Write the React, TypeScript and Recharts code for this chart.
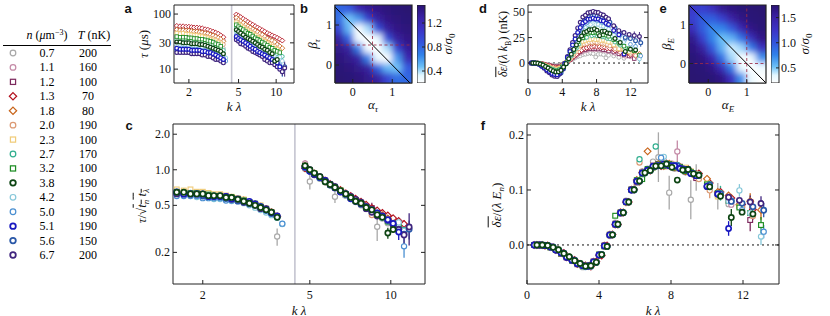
import React from 'react';
import { ScatterChart, Scatter, XAxis, YAxis, ReferenceLine, ErrorBar, BarChart, Bar } from 'recharts';

const SERIF = '"Liberation Serif", "Times New Roman", serif';
const SANS = '"Liberation Sans", Arial, sans-serif';
const INK = '#222';

// legend table: density (um^-3) and temperature (nK) of each data set
const DENSITY = [0.7, 1.1, 1.2, 1.3, 1.8, 2.0, 2.3, 2.7, 3.2, 3.8, 4.2, 5.0, 5.1, 5.6, 6.7];
const TEMP = [200, 160, 100, 70, 80, 190, 100, 170, 100, 190, 150, 190, 190, 150, 200];
const COLORS = ['#a8a8a8', '#c48aa6', '#7d2a5e', '#b3111e', '#c8641a', '#dc9a74', '#f0cc7a', '#2fae8e',
  '#1c8c22', '#0c4412', '#86c7d9', '#4a8fd1', '#1818c0', '#2a58a8', '#40257e'];
const SHAPES = ['circle', 'circle', 'square', 'diamond', 'diamond', 'circle', 'square', 'circle',
  'square', 'bold', 'circle', 'circle', 'bold', 'bold', 'bold'];
// drawing order of the data sets (last one on top)
const DRAW_ORDER = [0, 1, 2, 3, 4, 5, 6, 7, 8, 10, 11, 13, 14, 12, 9];

// k*lambda grid of panels a / c
const KL = [1.6, 1.7, 1.8, 1.9, 2.0, 2.1, 2.2, 2.32, 2.44, 2.56, 2.7, 2.84, 2.98, 3.13, 3.28, 3.44, 3.6, 3.78, 3.95,
  4.8, 5.0, 5.2, 5.45, 5.7, 5.95, 6.2, 6.5, 6.8, 7.1, 7.4, 7.75, 8.1, 8.5, 8.9, 9.3, 9.75, 10.2, 10.7, 11.2, 11.7];

// tau (us) per data set
const TAU_N07 = [55, 56, 54, 55, 53, 54, 52, 52, 51, 49, 48, 47, 46, 44, 42, 40, 38, 24, null,
  90, 70, 80, 74, 69, 65, 52, 57, 53, 50, 47, 44, 41, 39, 29, 34, 31, null, null, null, null];
const TAU_N11 = [55, 54, 54, 53, 53, 52, 51, 51, 50, 49, 48, 47, 45, 43, 42, 39, 37, 34, null,
  96, 84, 79, 73, 69, 64, 60, 56, 53, 49, 47, 44, 41, 38, 36, 34, 31, 29, null, null, null];
const TAU_N12 = [51, 50, 50, 49, 49, 48, 47, 47, 46, 45, 44, 43, 41, 40, 38, 36, 34, null, null,
  84, 77, 72, 67, 63, 58, 55, 52, 48, 45, 43, 41, 38, 37, 33, 31, 29, 27, 24, null, null];
const TAU_N13 = [61, 60, 60, 59, 59, 58, 57, 57, 56, 55, 53, 52, 50, 48, 46, 44, 41, 38, null,
  98, 93, 88, 82, 77, 72, 68, 64, 60, 57, 54, 51, 48, 45, 43, 41, 39, 37, 35, 33, null];
const TAU_N18 = [52, 51, 51, 50, 50, 49, 48, 48, 47, 46, 45, 44, 42, 41, 39, 37, 35, 32, null,
  86, 79, 74, 69, 64, 60, 57, 53, 50, 47, 44, 42, 39, 36, 34, 33, 31, 28, 26, 24, null];
const TAU_N20 = [45, 45, 44, 44, 43, 43, 42, 42, 41, 40, 39, 38, 37, 36, 34, 32, 31, 28, null,
  74, 69, 64, 60, 56, 53, 50, 46, 43, 41, 38, 36, 34, 29, 29, 28, 26, 24, 22, null, null];
const TAU_N23 = [45, 44, 45, 43, 43, 42, 41, 41, 40, 39, 38, 37, 35, 34, 33, 31, 29, null, null,
  70, 65, 62, 57, 53, 50, 47, 44, 41, 38, 36, 34, 32, 30, 28, 26, 24, 23, 21, null, null];
const TAU_N27 = [35, 35, 35, 34, 34, 33, 33, 33, 32, 32, 31, 30, 29, 28, 27, 25, 24, 22, null,
  58, 54, 51, 47, 44, 41, 39, 36, 34, 32, 30, 29, 26, 25, 23, 22, 20, 19, 18, 17, null];
const TAU_N32 = [39, 38, 38, 38, 37, 37, 36, 36, 35, 35, 34, 33, 32, 31, 29, 28, 26, null, null,
  64, 59, 55, 52, 48, 45, 43, 40, 37, 35, 33, 31, 29, 27, 25, 24, 22, 21, 20, null, null];
const TAU_N38 = [31, 31, 30, 30, 30, 29, 29, 29, 28, 28, 27, 26, 25, 24, 23, 22, 21, 19, null,
  52, 48, 45, 42, 38, 36, 34, 32, 30, 28, 26, 25, 23, 22, 20, 19, 14, 15, null, null, null];
const TAU_N42 = [28, 28, 28, 27, 27, 27, 26, 26, 26, 25, 25, 24, 23, 22, 21, 20, 19, 18, 16,
  48, 45, 42, 39, 37, 34, 33, 30, 28, 27, 25, 24, 22, 21, 19, 18, 17, 16, 16.5, 14, null];
const TAU_N50 = [24, 24, 24, 24, 23, 23, 23, 23, 22, 22, 22, 21, 21, 20, 19, 18, 17, 16, 14,
  42, 39, 37, 34, 32, 30, 28, 26, 25, 23, 22, 21, 19, 18, 17, 16, 15, 14, 12, 9, null];
const TAU_N51 = [24, 23, 23, 23, 23, 22, 22, 22, 22, 21, 21, 20, 20, 19, 18, 17, 16, 15, null,
  39, 36, 34, 32, 30, 28, 26, 24, 23, 21, 20, 19, 18, 17, 16, 15, 14, 13, 11, null, null];
const TAU_N56 = [22, 22, 22, 22, 21, 21, 21, 21, 20, 20, 19, 19, 18, 18, 17, 16, 15, 14, null,
  37, 34, 32, 30, 28, 26, 25, 23, 22, 20, 19, 18, 17, 16, 15, 14, 13, 12, 11, 10, 11];
const TAU_N67 = [20, 20, 20, 20, 20, 19, 19, 19, 19, 18, 18, 17, 17, 16, 15, 15, 14, 13, null,
  34, 32, 29, 28, 26, 24, 23, 21, 20, 19, 18, 17, 15, 14, 13, 13, 12, 11, 10, 9, 10.5];
// sqrt(t_n t_lambda) in us, used for the scaled panel c
const T_SCALE = [88, 85, 78, 95, 80, 70, 66, 55, 60, 48, 46, 40, 37, 35, 32];
// [data set, point index, error in us]
const ERR_TAU = [[0, 17, 4], [0, 20, 10], [0, 25, 6], [0, 33, 7], [1, 19, 7], [1, 32, 4], [2, 32, 4], [4, 19, 4],
  [3, 38, 2.5], [5, 36, 2], [6, 37, 1.5], [7, 38, 1.5], [8, 37, 1.5], [9, 35, 1.5], [10, 37, 1.2], [11, 38, 1.8],
  [12, 37, 1.6], [13, 39, 2], [14, 38, 1.5], [14, 39, 3.2]];

// k*lambda grids of panels d / f (even and odd data sets are sampled on shifted grids)
const KE = [0.4, 0.7, 1.0, 1.3, 1.6, 1.9, 2.2, 2.5, 2.8, 3.1, 3.4, 3.7, 4.0, 4.3, 4.6, 4.9, 5.2, 5.5, 5.8, 6.1,
  6.4, 6.7, 7.0, 7.3, 7.6, 7.9, 8.2, 8.5, 8.8, 9.1, 9.4, 9.7, 10.0, 10.3, 10.6, 10.9, 11.2, 11.5, 11.8, 12.1,
  12.4, 12.7, 13.0, 13.3];
const KE_ALT = [0.55, 0.85, 1.15, 1.45, 1.75, 2.05, 2.35, 2.65, 2.95, 3.25, 3.55, 3.85, 4.15, 4.45, 4.75, 5.05, 5.35, 5.65, 5.95, 6.25,
  6.55, 6.85, 7.15, 7.45, 7.75, 8.05, 8.35, 8.65, 8.95, 9.25, 9.55, 9.85, 10.15, 10.45, 10.75, 11.05, 11.35, 11.65, 11.95, 12.25,
  12.55, 12.85, 13.15, 13.4];

// mean energy shift / (lambda kB) in nK per data set
const DE_N07 = [0, 0.1, -0.1, -0.3, -0.5, -1, -1.3, -1.8, -2, -2.5, -2.3, -2, -1.2, 0, 1, 2.5, 3.5, 5, 6.2, 7,
  8.3, 8.6, 9.4, 9.9, 9.2, 5.9, 8.6, 8.8, 8.2, 5.1, 7.6, null, 6.9, null, 5.5, null, 4.6, null, null, null,
  null, null, null, null];
const DE_N11 = [0, 0, -0.1, -0.3, -0.8, -1.3, -2.1, -2.6, -3, -3.5, -3.3, -2.9, -1.5, -0.3, 1.7, 3.3, 5.3, 7, 9.1, 10.4,
  11.9, 12.1, 13, 13.4, 12.9, 13.3, 15.3, 12.4, 12.4, 11.5, 11.6, null, 9.4, null, 8.6, null, 6.6, null, 6.2, null,
  null, null, null, null];
const DE_N12 = [0, -0.1, -0.1, -0.4, -0.8, -1.6, -2.2, -2.6, -3.4, -3.6, -3.8, -2.9, -1.8, -0.1, 1.8, 3.6, 5.7, 7.6, 9.8, 11.1,
  12.8, 13.1, 14, 14.3, 13.9, 14.3, 13.7, 13.8, 13, 12.9, 11.8, null, 10.8, null, 9.1, null, 7.9, null, 6.9, null,
  4.4, null, null, null];
const DE_N13 = [0, 0, -0.1, -0.5, -1, -1.6, -2.5, -3, -3.8, -4.1, -4.3, -3.3, -2.1, -0.1, 2.1, 4.1, 6.5, 8.6, 11.1, 12.7,
  14.5, 14.9, 15.8, 15.8, 16.3, 15.8, 15.9, 15.2, 15.2, 14.2, 14.3, null, 12.4, null, 10.6, null, 9.4, null, 8.1, null,
  7.1, null, null, null];
const DE_N18 = [0, 0, -0.2, -0.5, -1.3, -2, -3.1, -3.8, -4.8, -5.1, -5.3, -4.2, -2.6, -0.2, 2.6, 5.1, 8.2, 10.7, 13.9, 16.3,
  18.2, 23.5, 19.4, 20.3, 19.8, 20.4, 19.5, 19.6, 18.5, 18.4, 17.8, null, 16.6, null, 13.3, null, 12.4, null, 10.1, null,
  11, null, 8.8, null];
const DE_N20 = [0, 0, -0.1, -0.5, -1.3, -2.2, -3, -4, -4.7, -5.4, -5.2, -4.4, -2.4, -0.4, 2.6, 5.2, 8.3, 10.9, 14.1, 21,
  18.5, 19, 20.2, 20.1, 20.7, 20, 20.3, 19.3, 19.2, 18, 16.8, null, 13.9, null, 13.1, null, 11.2, null, 9.6, null,
  7.4, null, null, null];
const DE_N23 = [0, 0, -0.1, -0.7, -1.3, -2.5, -3.4, -4.6, -5.3, -6.2, -6, -5.1, -2.8, -0.4, 3, 6, 9.5, 12.4, 16, 18.5,
  21.1, 21.7, 23, 23, 23.8, 22.9, 23.4, 22.1, 22.5, 21.4, 20.6, null, 17.9, null, 14.1, null, 13.3, null, 11.2, null,
  null, null, null, null];
const DE_N27 = [0, 0, -0.2, -0.8, -1.6, -2.9, -4, -5.3, -6.2, -7.2, -7, -5.9, -3.2, -0.5, 3.4, 7, 11, 14.5, 18.7, 29,
  24.5, 25.2, 33.3, 26.8, 27.6, 26.6, 27.1, 25.7, 25.6, 24.1, 23.8, null, 20.6, null, 17.5, null, 14.9, null, null, null,
  null, null, null, null];
const DE_N32 = [0, 0, -0.2, -0.9, -1.8, -3.2, -4.5, -5.9, -6.9, -8, -7.8, -6.5, -3.6, -0.5, 3.8, 11, 12.2, 16.2, 20.8, 24.4,
  24.8, 28.6, 29.2, 30.3, 29.8, 30.4, 29.2, 29.3, 27.8, 27.4, 26.3, null, 22.8, null, 19.5, null, 16.6, null, 14.1, null,
  12, null, 7.5, null];
const DE_N38 = [0, 0, -0.2, -1, -2, -3.5, -4.9, -6.5, -7.7, -8.8, -8.6, -7.2, -4, -0.6, 4.2, 8.6, 13.4, 17.8, 22.9, 26.5,
  29.9, 30.9, 32.7, 32.8, 33.6, 32.2, 26.9, 31.1, 31.3, 29.5, 28.9, null, 24.1, null, 20.2, null, 11.4, null, 13.6, null,
  12.8, null, null, null];
const DE_N42 = [0, 0, -0.3, -1.1, -2.3, -4, -5.7, -7.4, -8.8, -10.1, -10.2, -8, -4.8, -0.4, 4.8, 9.9, 15.4, 20.5, 26.2, 30.5,
  34.4, 35.6, 37.6, 37.8, 42, 37.7, 37.9, 36.4, 36, 34.1, 33.3, null, 27.9, null, 24.4, null, 21, null, 26, null,
  15.2, null, 4, null];
const DE_N50 = [0, 0, -0.3, -1.3, -2.7, -4.5, -6.5, -8.3, -10.2, -11.6, -11.4, -9.3, -5.1, -0.7, 5.4, 10.8, 17, 22.6, 29.1, 33.6,
  38, 39.3, 41.7, 46, 42.8, 41.8, 42, 40.1, 39.8, 37.6, 36.9, null, 30.6, null, 27.1, null, 23.5, null, 18.4, null,
  16.4, null, 7, null];
const DE_N51 = [0, 0, -0.3, -1.1, -2.8, -4.4, -6.7, -8.3, -10.3, -11.3, -11.5, -9.2, -5.5, -0.5, 5.5, 11.3, 17.6, 23.5, 30, 34.8,
  39.3, 40.8, 43, 43.3, 44.1, 43.2, 43.2, 41.7, 41.2, 39, 37.8, null, 32, null, 27.8, null, 9, null, null, null,
  null, null, null, null];
const DE_N56 = [0, 0, -0.3, -1.2, -3, -4.7, -7.1, -8.8, -10.9, -12.2, -11.8, -9.9, -5.6, -0.7, 5.8, 11.8, 18.6, 24.8, 31.7, 36.8,
  41.5, 43.1, 45.4, 45.7, 46.6, 45.8, 45.6, 44, 43.5, 41.2, 40, null, 34.6, null, 29.3, null, 25.1, null, 24, null,
  22, null, 20, null];
const DE_N67 = [0, 0, -0.4, -1.3, -3.2, -5.1, -7.7, -9.6, -11.8, -13, -13.2, -10.6, -6.3, -0.6, 6.3, 13, 20.2, 27.1, 34.5, 40.1,
  45.2, 47, 49.3, 49.8, 50.7, 49.8, 49.6, 48, 47.2, 44.9, 43.5, null, 36.6, null, 31.8, null, 30, null, 28, null,
  27, null, 26, null];
// E_n / kB in nK, used for the scaled panel f
const E_N = [62, 90, 97, 110, 138, 140, 160, 186, 207, 228, 262, 290, 300, 317, 345];
// [data set, point index, error in nK]
const ERR_DE = [[0, 23, 2.8], [0, 25, 1.9], [0, 29, 2.2], [0, 30, 1.5], [0, 34, 1.5], [1, 26, 1.8], [2, 40, 2], [3, 40, 2],
  [4, 40, 2], [4, 42, 2.5], [5, 32, 2], [7, 34, 2.5], [8, 42, 3], [9, 36, 3.5], [10, 38, 3], [10, 42, 4], [11, 40, 3],
  [11, 42, 3.5], [12, 36, 4], [13, 42, 4], [14, 40, 4], [14, 42, 4.5]];

// sigma/sigma0 maps (rows from top beta to bottom beta)
const ALPHA_B = [-0.33, -0.09, 0.16, 0.40, 0.64, 0.89, 1.13, 1.38];
const BETA_B = [1.38, 1.13, 0.89, 0.64, 0.40, 0.16, -0.09, -0.33];
const SIGMA_B = [
  [0.79, 0.85, 1.22, 1.34, 1.42, 1.46, 1.48, 1.5],
  [0.75, 0.46, 0.6, 1.0, 1.32, 1.42, 1.46, 1.48],
  [0.98, 0.5, 0.21, 0.4, 0.9, 1.32, 1.42, 1.46],
  [1.32, 0.82, 0.26, 0.16, 0.28, 0.9, 1.32, 1.42],
  [1.4, 1.32, 0.68, 0.25, 0.16, 0.4, 1.0, 1.34],
  [1.46, 1.4, 1.3, 0.68, 0.28, 0.21, 0.6, 1.22],
  [1.48, 1.46, 1.4, 1.32, 0.82, 0.5, 0.46, 0.85],
  [1.5, 1.48, 1.46, 1.4, 1.32, 0.98, 0.75, 0.79],
];
const ALPHA_E = [-0.375, -0.125, 0.125, 0.375, 0.625, 0.875, 1.125, 1.375];
const BETA_E = [1.375, 1.125, 0.875, 0.625, 0.375, 0.125, -0.125, -0.375];
const SIGMA_E = [
  [1.2, 1.15, 1.35, 1.6, 1.68, 1.72, 1.74, 1.75],
  [1.15, 0.95, 0.95, 1.15, 1.5, 1.65, 1.72, 1.74],
  [1.35, 0.95, 0.72, 0.75, 0.98, 1.42, 1.65, 1.72],
  [1.62, 1.15, 0.75, 0.52, 0.58, 0.85, 1.35, 1.65],
  [1.68, 1.52, 0.98, 0.58, 0.38, 0.45, 0.78, 1.3],
  [1.72, 1.66, 1.42, 0.85, 0.45, 0.22, 0.28, 0.7],
  [1.74, 1.72, 1.65, 1.35, 0.78, 0.3, 0.17, 0.28],
  [1.75, 1.74, 1.72, 1.65, 1.3, 0.7, 0.3, 0.2],
];

const TAU = [TAU_N07, TAU_N11, TAU_N12, TAU_N13, TAU_N18, TAU_N20, TAU_N23, TAU_N27, TAU_N32, TAU_N38, TAU_N42, TAU_N50, TAU_N51, TAU_N56, TAU_N67];
const DE = [DE_N07, DE_N11, DE_N12, DE_N13, DE_N18, DE_N20, DE_N23, DE_N27, DE_N32, DE_N38, DE_N42, DE_N50, DE_N51, DE_N56, DE_N67];

const HEAT_STOPS: [number, string][] = [
  [0, '#ffffff'], [0.1, '#e2f7ff'], [0.21, '#6cc0f7'], [0.36, '#3182ea'],
  [0.52, '#3454dc'], [0.68, '#3c34c6'], [0.84, '#3a22a6'], [1, '#2a1272'],
];

function hexRgb(h: string) {
  return [parseInt(h.slice(1, 3), 16), parseInt(h.slice(3, 5), 16), parseInt(h.slice(5, 7), 16)];
}

function heatColor(v: number, lo: number, hi: number) {
  const t = Math.max(0, Math.min(1, (v - lo) / (hi - lo)));
  for (let k = 1; k < HEAT_STOPS.length; k++) {
    const [t1, c1] = HEAT_STOPS[k];
    if (t <= t1) {
      const [t0, c0] = HEAT_STOPS[k - 1];
      const f = (t - t0) / (t1 - t0);
      const a = hexRgb(c0), b = hexRgb(c1);
      return `rgb(${a.map((x, j) => Math.round(x + (b[j] - x) * f)).join(',')})`;
    }
  }
  return HEAT_STOPS[HEAT_STOPS.length - 1][1];
}

function buildPoints(xs: number[], ys: (number | null)[], scale: number, errs: number[][], si: number) {
  const out: any[] = [];
  ys.forEach((v, i) => {
    if (v == null) return;
    const e = errs.find((r) => r[0] === si && r[1] === i);
    out.push({ x: xs[i], y: v / scale, err: e ? e[2] / scale : 0 });
  });
  return out;
}

function Marker({ cx, cy, i, r }: any) {
  if (cx == null || cy == null) return null;
  const color = COLORS[i];
  const shape = SHAPES[i];
  const sw = (shape === 'bold' ? 1.65 : 1.15) * (r / 2.6);
  const common = { fill: '#fff', stroke: color, strokeWidth: sw };
  if (shape === 'square') {
    const s = r * 0.92;
    return <rect x={cx - s} y={cy - s} width={2 * s} height={2 * s} {...common} />;
  }
  if (shape === 'diamond') {
    const s = r * 1.3;
    return <polygon points={`${cx},${cy - s} ${cx + s},${cy} ${cx},${cy + s} ${cx - s},${cy}`} {...common} />;
  }
  return <circle cx={cx} cy={cy} r={r} {...common} />;
}

const FRAME = { stroke: INK, strokeWidth: 1 };

function BottomTick({ x, y, payload, fmt, margin, lab }: any) {
  const y0 = y - margin;
  return (
    <g>
      <line x1={x} x2={x} y1={y0} y2={y0 - 4} stroke={INK} />
      <text x={x} y={y0 + lab} textAnchor="middle" fontFamily={SERIF} fontSize={12} fill="#111">{fmt(payload.value)}</text>
    </g>
  );
}

function LeftTick({ x, y, payload, fmt, margin }: any) {
  const x0 = x + margin;
  return (
    <g>
      <line x1={x0} x2={x0 + 4} y1={y} y2={y} stroke={INK} />
      <text x={x0 - 3} y={y + 4} textAnchor="end" fontFamily={SERIF} fontSize={12} fill="#111">{fmt(payload.value)}</text>
    </g>
  );
}

function TopTick({ x, y }: any) {
  return <line x1={x} x2={x} y1={y} y2={y + 4} stroke={INK} />;
}

function RightTick({ x, y }: any) {
  return <line x1={x} x2={x - 4} y1={y} y2={y} stroke={INK} />;
}

function CbarTick({ x, y, payload, fmt, margin }: any) {
  const x0 = x - margin;
  return (
    <g>
      <line x1={x0} x2={x0 - 3} y1={y} y2={y} stroke={INK} />
      <text x={x0 + 2} y={y + 4} textAnchor="start" fontFamily={SERIF} fontSize={12} fill="#111">{fmt(payload.value)}</text>
    </g>
  );
}

const LY = 34;
const TOPM = 4;
const RIGHTM = 6;
const XH = 20;

function DataPanel({ left, top, w, h, xDomain, yDomain, xLog, yLog, xTicks, yTicks, xFmt, yFmt, series, r, vLine, zeroLine, lab }: any) {
  const xs = xLog ? 'log' : 'linear';
  const ys = yLog ? 'log' : 'linear';
  return (
    <div style={{ position: 'absolute', left: left - LY, top: top - TOPM }}>
      <ScatterChart width={LY + w + RIGHTM} height={TOPM + h + XH} margin={{ top: TOPM, right: RIGHTM, bottom: 0, left: 0 }}>
        <XAxis type="number" dataKey="x" scale={xs} domain={xDomain} allowDataOverflow ticks={xTicks} interval={0}
          height={XH} tickSize={0} tickMargin={3} tickLine={false} axisLine={FRAME}
          tick={(p: any) => <BottomTick {...p} fmt={xFmt} margin={3} lab={lab} />} />
        <XAxis xAxisId="top" orientation="top" mirror type="number" scale={xs} domain={xDomain} allowDataOverflow
          ticks={xTicks} interval={0} tickSize={0} tickMargin={0} tickLine={false} axisLine={FRAME}
          tick={(p: any) => <TopTick {...p} />} />
        <YAxis type="number" dataKey="y" scale={ys} domain={yDomain} allowDataOverflow ticks={yTicks} interval={0}
          width={LY} tickSize={0} tickMargin={3} tickLine={false} axisLine={FRAME}
          tick={(p: any) => <LeftTick {...p} fmt={yFmt} margin={3} />} />
        <YAxis yAxisId="right" orientation="right" mirror type="number" scale={ys} domain={yDomain} allowDataOverflow
          ticks={yTicks} interval={0} tickSize={0} tickMargin={0} tickLine={false} axisLine={FRAME}
          tick={(p: any) => <RightTick {...p} />} />
        {vLine != null && <ReferenceLine x={vLine} stroke="#c4c4d0" strokeWidth={1.6} />}
        {zeroLine && <ReferenceLine y={0} stroke="#111" strokeDasharray="2 3" />}
        {DRAW_ORDER.map((i) => (
          <Scatter key={i} data={series[i]} isAnimationActive={false} shape={(p: any) => <Marker cx={p.cx} cy={p.cy} i={i} r={r} />}>
            <ErrorBar dataKey="err" direction="y" width={0} stroke={COLORS[i]} strokeWidth={r > 2.2 ? 1.3 : 1} />
          </Scatter>
        ))}
      </ScatterChart>
    </div>
  );
}

const HLY = 30;
const NoDot = () => <g />;

function HeatPanel({ left, top, w, h, domain, alphas, betas, grid, range, filterId, cross, diag }: any) {
  const n = alphas.length;
  const cells: any[] = [];
  grid.forEach((row: number[], ri: number) => row.forEach((v, ci) => cells.push({ x: alphas[ci], y: betas[ri], v, r: ri, c: ci })));
  const cw = w / n;
  const ch = h / n;
  const shape = (p: any) => {
    const { cx, cy, payload } = p;
    let x0 = cx - cw / 2 - 0.7, x1 = cx + cw / 2 + 0.7, y0 = cy - ch / 2 - 0.7, y1 = cy + ch / 2 + 0.7;
    if (payload.c === 0) x0 -= 14;
    if (payload.c === n - 1) x1 += 14;
    if (payload.r === 0) y0 -= 14;
    if (payload.r === n - 1) y1 += 14;
    return <rect x={x0} y={y0} width={x1 - x0} height={y1 - y0} fill={heatColor(payload.v, range[0], range[1])} />;
  };
  const [d0, d1] = domain;
  const box = [{ x: d0, y: d0 }, { x: d1, y: d0 }, { x: d1, y: d1 }, { x: d0, y: d1 }, { x: d0, y: d0 }];
  const dash = { stroke: '#9a2a48', strokeOpacity: 0.85, strokeDasharray: '3 2.5', strokeWidth: 1 };
  const f0 = (v: number) => String(v);
  return (
    <div style={{ position: 'absolute', left: left - HLY, top: top - TOPM }}>
      <ScatterChart width={HLY + w + RIGHTM} height={TOPM + h + XH} margin={{ top: TOPM, right: RIGHTM, bottom: 0, left: 0 }}>
        <XAxis type="number" dataKey="x" domain={domain} ticks={[0, 1]} interval={0} height={XH} tickSize={0} tickMargin={3}
          tickLine={false} axisLine={FRAME} tick={(p: any) => <BottomTick {...p} fmt={f0} margin={3} lab={13} />} />
        <YAxis type="number" dataKey="y" domain={domain} ticks={[0, 1]} interval={0} width={HLY} tickSize={0} tickMargin={3}
          tickLine={false} axisLine={FRAME} tick={(p: any) => <LeftTick {...p} fmt={f0} margin={3} />} />
        <Scatter data={cells} className={filterId} isAnimationActive={false} shape={shape} />
        <Scatter data={[{ x: cross[0], y: d0 }, { x: cross[0], y: d1 }]} line={dash} lineType="joint" shape={NoDot} isAnimationActive={false} />
        <Scatter data={[{ x: d0, y: cross[1] }, { x: d1, y: cross[1] }]} line={dash} lineType="joint" shape={NoDot} isAnimationActive={false} />
        <Scatter data={diag} line={{ stroke: '#000', strokeWidth: 1 }} lineType="joint" shape={NoDot} isAnimationActive={false} />
        <Scatter data={box} line={{ stroke: INK, strokeWidth: 1.2 }} lineType="joint" shape={NoDot} isAnimationActive={false} />
      </ScatterChart>
    </div>
  );
}

function ColorBar({ left, top, w, h, range, ticks }: any) {
  const fmt = (v: number) => v.toFixed(1);
  return (
    <div style={{ position: 'absolute', left, top: top - TOPM }}>
      <BarChart width={w + 30} height={h + 2 * TOPM} margin={{ top: TOPM, right: 0, bottom: TOPM, left: 0 }}
        data={[{ k: 'cb', r: range }]} barCategoryGap={0}>
        <XAxis dataKey="k" hide />
        <YAxis orientation="right" type="number" domain={range} allowDataOverflow ticks={ticks} interval={0} width={30}
          tickSize={0} tickMargin={3} tickLine={false} axisLine={false}
          tick={(p: any) => <CbarTick {...p} fmt={fmt} margin={3} />} />
        <Bar dataKey="r" fill="url(#cbarGrad)" stroke={INK} strokeWidth={1} isAnimationActive={false} />
      </BarChart>
    </div>
  );
}

function Txt({ x, y, rot, size = 13, children, style }: any) {
  return (
    <div style={{
      position: 'absolute', left: x, top: y, whiteSpace: 'nowrap', fontFamily: SERIF, fontSize: size, lineHeight: 1,
      transform: `translate(-50%,-50%)${rot ? ' rotate(-90deg)' : ''}`, color: '#111', ...style,
    }}>{children}</div>
  );
}

function Letter({ x, y, children }: any) {
  return <Txt x={x} y={y} size={13} style={{ fontFamily: SANS, fontWeight: 700 }}>{children}</Txt>;
}

const KLAMBDA = <span><i>k</i> <i>λ</i></span>;

function Legend() {
  const rowY = (i: number) => 53 + i * 14.43;
  return (
    <svg width={118} height={270} style={{ position: 'absolute', left: 0, top: 0 }}>
      <text x={47} y={39} textAnchor="middle" fontFamily={SERIF} fontSize={12}>
        <tspan fontStyle="italic">n</tspan> (<tspan fontStyle="italic">μ</tspan>m<tspan dy={-4} fontSize={8}>−3</tspan><tspan dy={4}>)</tspan>
      </text>
      <text x={94} y={39} textAnchor="middle" fontFamily={SERIF} fontSize={12}>
        <tspan fontStyle="italic">T</tspan> (nK)
      </text>
      <line x1={3} x2={111} y1={45.5} y2={45.5} stroke="#000" strokeWidth={1} />
      {DENSITY.map((d, i) => (
        <g key={i}>
          <Marker cx={13} cy={rowY(i)} i={i} r={2.8} />
          <text x={47} y={rowY(i) + 4} textAnchor="middle" fontFamily={SERIF} fontSize={12}>{d.toFixed(1)}</text>
          <text x={88} y={rowY(i) + 4} textAnchor="middle" fontFamily={SERIF} fontSize={12}>{TEMP[i]}</text>
        </g>
      ))}
    </svg>
  );
}

export default function App() {
  const aSeries = TAU.map((arr, i) => buildPoints(KL, arr, 1, ERR_TAU, i));
  const cSeries = TAU.map((arr, i) => buildPoints(KL, arr, T_SCALE[i], ERR_TAU, i));
  const dSeries = DE.map((arr, i) => buildPoints(i % 2 ? KE_ALT : KE, arr, 1, ERR_DE, i));
  const fSeries = DE.map((arr, i) => buildPoints(i % 2 ? KE_ALT : KE, arr, E_N[i], ERR_DE, i));
  const int = (v: number) => String(v);
  const one = (v: number) => v.toFixed(1);

  return (
    <div style={{ position: 'absolute', left: 0, top: 0, width: 830, height: 316, background: '#fff', overflow: 'hidden', fontFamily: SERIF }}>
      <style>{'.heatB{filter:url(#blurB);} .heatE{filter:url(#blurE);}'}</style>
      <svg width={0} height={0} style={{ position: 'absolute' }}>
        <defs>
          <linearGradient id="cbarGrad" x1="0" y1="1" x2="0" y2="0">
            {HEAT_STOPS.map(([t, c]) => <stop key={t} offset={t} stopColor={c} />)}
          </linearGradient>
          <filter id="blurB" filterUnits="userSpaceOnUse" x={HLY} y={TOPM} width={77} height={78}>
            <feGaussianBlur stdDeviation={3.2} />
          </filter>
          <filter id="blurE" filterUnits="userSpaceOnUse" x={HLY} y={TOPM} width={77} height={78}>
            <feGaussianBlur stdDeviation={3.2} />
          </filter>
        </defs>
      </svg>

      <Legend />

      {/* a */}
      <DataPanel left={174} top={5} w={120} h={78} xDomain={[1.52, 13.9]} yDomain={[5.6, 146]} xLog yLog
        xTicks={[2, 5, 10]} yTicks={[10, 30, 100]} xFmt={int} yFmt={int} series={aSeries} r={1.9} vLine={4.4} lab={13} />
      {/* b */}
      <HeatPanel left={335} top={5} w={77} h={78} domain={[-0.45, 1.5]} alphas={ALPHA_B} betas={BETA_B} grid={SIGMA_B}
        range={[0.2, 1.5]} filterId="heatB" cross={[0.5, 0.5]} diag={[{ x: -0.45, y: 1.45 }, { x: 1.45, y: -0.45 }]} />
      <ColorBar left={417} top={5} w={8} h={78} range={[0.2, 1.5]} ticks={[0.4, 0.8, 1.2]} />
      {/* d */}
      <DataPanel left={528} top={5} w={120} h={78} xDomain={[0, 14]} yDomain={[-19.6, 57]}
        xTicks={[0, 4, 8, 12]} yTicks={[0, 25, 50]} xFmt={int} yFmt={int} series={dSeries} r={1.9} zeroLine lab={13} />
      {/* e */}
      <HeatPanel left={689} top={5} w={77} h={78} domain={[-0.5, 1.5]} alphas={ALPHA_E} betas={BETA_E} grid={SIGMA_E}
        range={[0.2, 1.75]} filterId="heatE" cross={[1, 0]} diag={[{ x: -0.5, y: 1.5 }, { x: 1.5, y: -0.5 }]} />
      <ColorBar left={771} top={5} w={8} h={78} range={[0.2, 1.75]} ticks={[0.5, 1.0, 1.5]} />
      {/* c */}
      <DataPanel left={173} top={124} w={252} h={160} xDomain={[1.55, 13.4]} yDomain={[0.108, 2.44]} xLog yLog
        xTicks={[2, 5, 10]} yTicks={[0.2, 0.5, 1, 2]} xFmt={int} yFmt={one} series={cSeries} r={2.6} vLine={4.4} lab={15} />
      {/* f */}
      <DataPanel left={527} top={124} w={252} h={160} xDomain={[0, 14]} yDomain={[-0.071, 0.22]}
        xTicks={[0, 4, 8, 12]} yTicks={[0, 0.1, 0.2]} xFmt={int} yFmt={one} series={fSeries} r={2.6} zeroLine lab={15} />

      <Letter x={128} y={8}>a</Letter>
      <Letter x={304} y={8}>b</Letter>
      <Letter x={483} y={8}>d</Letter>
      <Letter x={663} y={8}>e</Letter>
      <Letter x={129} y={125}>c</Letter>
      <Letter x={483} y={125}>f</Letter>

      <Txt x={143} y={44} rot><i>τ</i> (<i>μ</i>s)</Txt>
      <Txt x={234} y={106}>{KLAMBDA}</Txt>
      <Txt x={314} y={44} rot><i>β<sub style={{ fontSize: 9 }}>τ</sub></i></Txt>
      <Txt x={373} y={106}><i>α<sub style={{ fontSize: 9 }}>τ</sub></i></Txt>
      <Txt x={449} y={44} rot><i>σ</i>/<i>σ</i><sub style={{ fontSize: 9 }}>0</sub></Txt>
      <Txt x={505} y={44} rot size={12}>
        <span style={{ textDecoration: 'overline' }}><i>δε</i></span>/(<i>λ k</i><sub style={{ fontSize: 8 }}>B</sub>) (nK)
      </Txt>
      <Txt x={588} y={106}>{KLAMBDA}</Txt>
      <Txt x={668} y={44} rot><i>β<sub style={{ fontSize: 9 }}>E</sub></i></Txt>
      <Txt x={728} y={106}><i>α<sub style={{ fontSize: 9 }}>E</sub></i></Txt>
      <Txt x={806} y={44} rot><i>σ</i>/<i>σ</i><sub style={{ fontSize: 9 }}>0</sub></Txt>
      <Txt x={143} y={206} rot>
        <i>τ</i>/√<span style={{ textDecoration: 'overline' }}><i>t<sub style={{ fontSize: 9 }}>n</sub></i> <i>t<sub style={{ fontSize: 9 }}>λ</sub></i></span>
      </Txt>
      <Txt x={299} y={310}>{KLAMBDA}</Txt>
      <Txt x={498} y={205} rot>
        <span style={{ textDecoration: 'overline' }}><i>δε</i></span>/(<i>λ E<sub style={{ fontSize: 9 }}>n</sub></i>)
      </Txt>
      <Txt x={653} y={310}>{KLAMBDA}</Txt>
    </div>
  );
}
